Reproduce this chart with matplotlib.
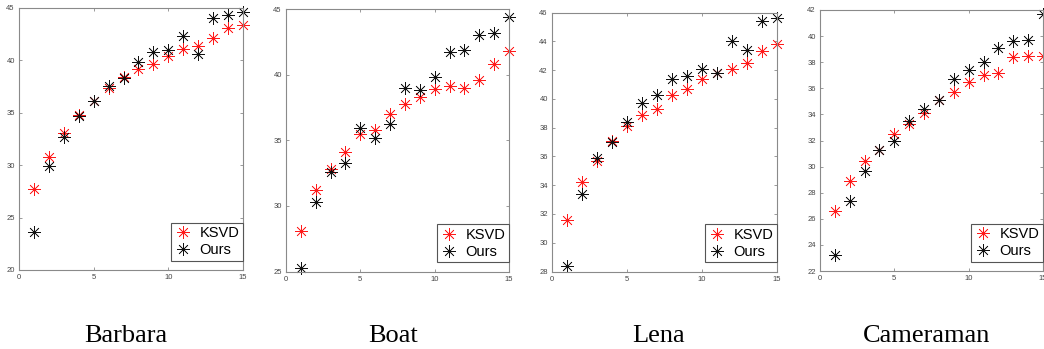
import matplotlib.pyplot as plt
import numpy as np

plt.rcParams['font.family'] = ['Liberation Sans', 'DejaVu Sans']

# number of atoms / iteration index on the x axis
x = np.arange(1, 16)

# PSNR for each test image
barbara_ksvd = [27.7, 30.8, 33.1, 34.8, 36.1, 37.4, 38.4, 39.2, 39.7, 40.4, 41.1, 41.4, 42.1, 43.1, 43.4]
barbara_ours = [23.6, 29.9, 32.7, 34.7, 36.1, 37.6, 38.3, 39.8, 40.8, 41.0, 42.3, 40.6, 44.0, 44.3, 44.6]

boat_ksvd = [28.1, 31.2, 32.8, 34.1, 35.5, 35.8, 37.0, 37.8, 38.3, 38.9, 39.1, 39.0, 39.6, 40.8, 41.8]
boat_ours = [25.3, 30.3, 32.6, 33.3, 35.9, 35.2, 36.2, 39.0, 38.8, 39.8, 41.7, 41.9, 43.0, 43.2, 44.4]

lena_ksvd = [31.6, 34.2, 35.7, 37.1, 38.1, 38.9, 39.3, 40.3, 40.7, 41.4, 41.8, 42.1, 42.5, 43.3, 43.8]
lena_ours = [28.4, 33.4, 35.9, 37.0, 38.4, 39.7, 40.3, 41.4, 41.6, 42.1, 41.8, 44.0, 43.4, 45.4, 45.6]

camera_ksvd = [26.6, 28.9, 30.4, 31.3, 32.5, 33.3, 34.1, 35.1, 35.7, 36.5, 37.0, 37.2, 38.4, 38.5, 38.5]
camera_ours = [23.2, 27.4, 29.7, 31.3, 32.0, 33.5, 34.4, 35.1, 36.7, 37.4, 38.0, 39.1, 39.6, 39.7, 41.7]

names = ['Barbara', 'Boat', 'Lena', 'Cameraman']
ylims = [(20, 45), (25, 45), (28, 46), (22, 42)]
ysteps = [5, 5, 2, 2]

W, H = 1044, 349
fig = plt.figure(figsize=(W / 100, H / 100), dpi=100)

# axes boxes in pixels: left, top, right, bottom
boxes = [(19, 8, 243, 270), (286, 9, 509, 271.5), (552, 12.5, 777, 271.5), (820, 10, 1043, 271)]
label_x = [126, 393, 659, 927]

series = [(barbara_ksvd, barbara_ours), (boat_ksvd, boat_ours),
          (lena_ksvd, lena_ours), (camera_ksvd, camera_ours)]

for i, (ksvd, ours) in enumerate(series):
    l, t, r, b = boxes[i]
    ax = fig.add_axes([l / W, (H - b) / H, (r - l) / W, (b - t) / H])
    ax.plot(x, ksvd, linestyle='none', marker=(8, 2, 0), markersize=9,
            markeredgewidth=0.5, color='#ff1a1a', label='KSVD', clip_on=False)
    ax.plot(x, ours, linestyle='none', marker=(8, 2, 0), markersize=9,
            markeredgewidth=0.5, color='#111111', label='Ours', clip_on=False)
    ax.set_xlim(0, 15)
    ax.set_ylim(*ylims[i])
    ax.set_xticks([0, 5, 10, 15])
    ax.set_yticks(np.arange(ylims[i][0], ylims[i][1] + 0.1, ysteps[i]))
    for s in ax.spines.values():
        s.set_color('#8a8a8a')
        s.set_linewidth(0.8)
    ax.tick_params(direction='in', length=2.5, width=0.6, color='#8a8a8a',
                   labelsize=5.5, labelcolor='#444444', top=True, right=True, pad=3)
    leg = ax.legend(loc='lower right', bbox_to_anchor=(1.0, 0.035), fontsize=10.5,
                    fancybox=False, framealpha=1, edgecolor='#555555',
                    handlelength=1.2, handletextpad=0.5, borderpad=0.25,
                    labelspacing=0.2, borderaxespad=0)
    leg.get_frame().set_linewidth(0.8)
    fig.text(label_x[i] / W, 7 / H, names[i], ha='center', va='baseline',
             fontsize=19, family=['Liberation Serif', 'DejaVu Serif'])

fig.savefig('out.png', dpi=100)
